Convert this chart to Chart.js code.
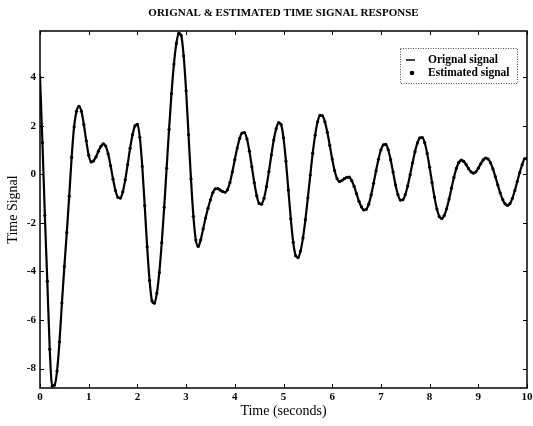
<!DOCTYPE html>
<html>
<head>
<meta charset="utf-8">
<script src="https://cdn.jsdelivr.net/npm/chart.js@4.4.1/dist/chart.umd.min.js"></script>
<style>
    html, body { margin: 0; padding: 0; background: #fff; }
</style>
</head>
<body>
<canvas id="graficoSinal" width="533" height="426"></canvas>
<script>
// intervalo de amostragem (s)
const dt = 0.05;

// sinal original, uma amostra a cada 0.05 s (10 amostras por linha)
const originalSignal = [
    4.0, 1.3, -1.7, -4.4, -7.2, -8.72, -8.68, -8.1, -6.9, -5.3,
    -3.8, -2.4, -0.9, 0.7, 1.95, 2.6, 2.8, 2.6, 2.05, 1.38,
    0.78, 0.51, 0.55, 0.72, 0.95, 1.15, 1.25, 1.16, 0.84, 0.35,
    -0.2, -0.67, -0.95, -0.98, -0.72, -0.23, 0.40, 1.07, 1.63, 1.99,
    2.06, 1.52, 0.32, -1.29, -2.98, -4.37, -5.21, -5.31, -4.89, -4.04,
    -2.82, -1.36, 0.25, 1.85, 3.32, 4.54, 5.39, 5.81, 5.71, 4.87,
    3.44, 1.63, -0.19, -1.73, -2.71, -2.97, -2.7, -2.25, -1.8, -1.4,
    -1.05, -0.75, -0.6, -0.59, -0.65, -0.71, -0.74, -0.64, -0.34, 0.10,
    0.60, 1.08, 1.48, 1.70, 1.72, 1.45, 0.95, 0.31, -0.34, -0.88,
    -1.2, -1.23, -0.99, -0.51, 0.11, 0.79, 1.41, 1.88, 2.13, 2.05,
    1.5, 0.54, -0.65, -1.84, -2.8, -3.35, -3.43, -3.16, -2.62, -1.87,
    -0.97, -0.03, 0.87, 1.61, 2.16, 2.43, 2.41, 2.16, 1.73, 1.19,
    0.63, 0.15, -0.18, -0.3, -0.25, -0.18, -0.13, -0.12, -0.26, -0.5,
    -0.8, -1.11, -1.34, -1.47, -1.44, -1.23, -0.85, -0.37, 0.14, 0.62,
    1.0, 1.21, 1.23, 1.01, 0.6, 0.09, -0.44, -0.84, -1.06, -1.05,
    -0.84, -0.48, -0.02, 0.47, 0.93, 1.29, 1.5, 1.51, 1.3, 0.86,
    0.29, -0.34, -0.94, -1.43, -1.74, -1.82, -1.70, -1.42, -1.02, -0.57,
    -0.13, 0.24, 0.49, 0.58, 0.53, 0.4, 0.23, 0.10, 0.05, 0.10,
    0.25, 0.43, 0.59, 0.67, 0.63, 0.48, 0.22, -0.1, -0.44, -0.77,
    -1.04, -1.22, -1.28, -1.21, -0.99, -0.67, -0.3, 0.07, 0.39, 0.64,
    0.66
];
// a estimativa coincide com o original
const estimatedSignal = originalSignal;

const xTicks = [0, 1, 2, 3, 4, 5, 6, 7, 8, 9, 10];
const yTicks = [-8, -6, -4, -2, 0, 2, 4];
const chartTitle = 'ORIGNAL & ESTIMATED TIME SIGNAL RESPONSE';

const serif = '"Liberation Serif", "Times New Roman", serif';
const toPoints = arr => arr.map((v, i) => ({x: i * dt, y: v}));

// moldura da área do gráfico com marcas para dentro (estilo matlab)
const moldura = {
    id: 'moldura',
    beforeDatasetsDraw(chart) {
        const {ctx, chartArea: a, scales: {x, y}} = chart;
        ctx.save();
        ctx.strokeStyle = '#000';
        ctx.lineWidth = 1.5;
        ctx.strokeRect(a.left, a.top, a.width, a.height);
        ctx.lineWidth = 1;
        ctx.beginPath();
        xTicks.forEach(v => {
            const px = Math.round(x.getPixelForValue(v)) + 0.5;
            ctx.moveTo(px, a.bottom); ctx.lineTo(px, a.bottom - 4);
            ctx.moveTo(px, a.top); ctx.lineTo(px, a.top + 4);
        });
        yTicks.forEach(v => {
            const py = Math.round(y.getPixelForValue(v)) + 0.5;
            ctx.moveTo(a.left, py); ctx.lineTo(a.left + 4, py);
            ctx.moveTo(a.right, py); ctx.lineTo(a.right - 4, py);
        });
        ctx.stroke();

        // título centrado sobre a área do gráfico
        ctx.font = 'bold 11px ' + serif;
        ctx.fillStyle = '#000';
        ctx.textAlign = 'center';
        ctx.textBaseline = 'middle';
        ctx.fillText(chartTitle, (a.left + a.right) / 2, 13);
        ctx.restore();
    }
};

// legenda dentro do gráfico, canto superior direito, com borda pontilhada
const legendaCaixa = {
    id: 'legendaCaixa',
    afterDraw(chart) {
        const {ctx, chartArea: a} = chart;
        const ds = chart.data.datasets;
        const w = 117, h = 35;
        const left = a.right - 10 - w, top = a.top + 17;
        ctx.save();
        ctx.fillStyle = '#fff';
        ctx.fillRect(left, top, w, h);
        ctx.setLineDash([1, 1.5]);
        ctx.strokeStyle = '#444';
        ctx.lineWidth = 1;
        ctx.strokeRect(left + 0.5, top + 0.5, w, h);
        ctx.setLineDash([]);

        ctx.font = 'bold 11.5px ' + serif;
        ctx.textBaseline = 'middle';
        ctx.fillStyle = '#000';
        ctx.strokeStyle = '#000';

        let yy = top + 12;
        ctx.lineWidth = 1.5;
        ctx.beginPath();
        ctx.moveTo(left + 6, yy);
        ctx.lineTo(left + 15, yy);
        ctx.stroke();
        ctx.fillText(ds[0].label, left + 28, yy);

        yy = top + 25;
        ctx.beginPath();
        ctx.arc(left + 12, yy, 2.3, 0, 2 * Math.PI);
        ctx.fill();
        ctx.fillText(ds[1].label, left + 28, yy);
        ctx.restore();
    }
};

new Chart(document.getElementById('graficoSinal'), {
    type: 'line',
    data: {
        datasets: [{
            label: 'Orignal signal',
            data: toPoints(originalSignal),
            borderColor: '#000',
            borderWidth: 2.2,
            pointRadius: 0,
            cubicInterpolationMode: 'monotone'
        }, {
            label: 'Estimated signal',
            data: toPoints(estimatedSignal),
            showLine: false,
            pointRadius: 1.6,
            pointBorderWidth: 0,
            pointBackgroundColor: '#000'
        }]
    },
    options: {
        responsive: false,
        animation: false,
        devicePixelRatio: 1,
        layout: { padding: { left: 0, right: 0, top: 31, bottom: 0 } },
        scales: {
            x: {
                type: 'linear',
                min: 0,
                max: 10,
                afterBuildTicks: s => { s.ticks = xTicks.map(v => ({value: v})); },
                afterFit: s => {
                    s.height = 38;
                    s.paddingLeft = 0;
                    s.paddingRight = 6;
                },
                grid: { display: false, drawTicks: false },
                border: { display: false },
                ticks: {
                    color: '#000',
                    padding: 3,
                    maxRotation: 0,
                    autoSkip: false,
                    font: { family: serif, size: 11, weight: 'bold' }
                },
                title: {
                    display: true,
                    text: 'Time (seconds)',
                    color: '#000',
                    font: { family: serif, size: 14 },
                    padding: { top: 0, bottom: 6 }
                }
            },
            y: {
                min: -8.8,
                max: 5.9,
                afterBuildTicks: s => { s.ticks = yTicks.map(v => ({value: v})); },
                afterFit: s => { s.width = 40; },
                grid: { display: false, drawTicks: false },
                border: { display: false },
                ticks: {
                    color: '#000',
                    padding: 4,
                    font: { family: serif, size: 11, weight: 'bold' }
                },
                title: {
                    display: true,
                    text: 'Time Signal',
                    color: '#000',
                    font: { family: serif, size: 14 },
                    padding: { top: 5, bottom: 0 }
                }
            }
        },
        plugins: {
            legend: { display: false },
            tooltip: { enabled: false },
            title: { display: false }
        }
    },
    plugins: [moldura, legendaCaixa]
});
</script>
</body>
</html>
